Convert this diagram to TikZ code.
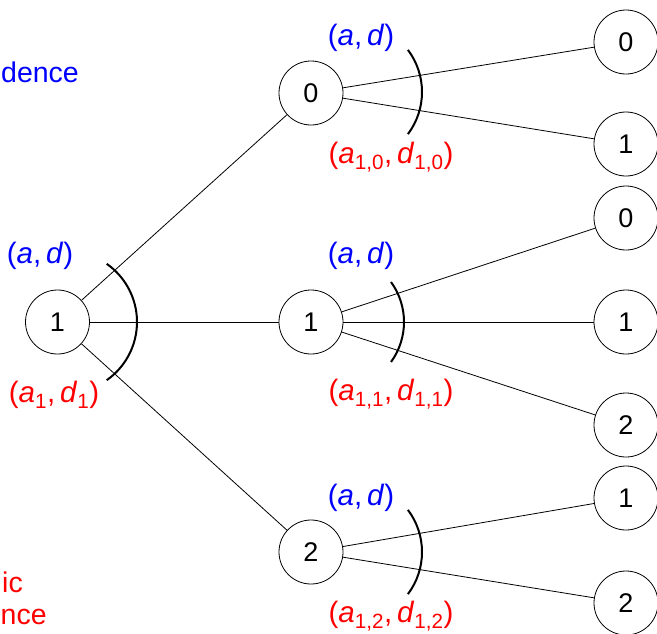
\documentclass[tikz,border=0pt]{standalone}
\usepackage{fontspec}
\setmainfont{Liberation Sans}
% pair label: (a_i, d_i) in sans italic
\newcommand{\pairlab}[2]{(\textit{a}\textsubscript{#1},\,\textit{d}\textsubscript{#2})}
\begin{document}
\begin{tikzpicture}[x=1pt,y=-1pt,
  state/.style={draw,circle,minimum size=64pt,inner sep=0pt,line width=0.8pt,
    font=\fontsize{27}{32}\selectfont},
  edge/.style={line width=0.8pt},
  cut/.style={line width=2pt},
  outerlab/.style={text=blue,inner sep=0pt,font=\fontsize{29.5}{34}\selectfont},
  innerlab/.style={text=red,inner sep=0pt,font=\fontsize{29.5}{34}\selectfont},
  caption/.style={inner sep=0pt,font=\fontsize{28.5}{34}\selectfont}]
\useasboundingbox (0,0) rectangle (657,633);
\clip (0,0) rectangle (657,633);

% root, middle level, leaves
\node[state] (r)   at (57.5,322) {1};
\node[state] (m0)  at (311,93)  {0};
\node[state] (m1)  at (311,322) {1};
\node[state] (m2)  at (311,552) {2};
\node[state] (l00) at (626,42)  {0};
\node[state] (l01) at (626,144) {1};
\node[state] (l10) at (626,218) {0};
\node[state] (l11) at (626,322) {1};
\node[state] (l12) at (626,425) {2};
\node[state] (l20) at (626,498) {1};
\node[state] (l21) at (626,603) {2};

% branches
\draw[edge] (r) -- (m0);
\draw[edge] (r) -- (m1);
\draw[edge] (r) -- (m2);
\draw[edge] (m0) -- (l00);
\draw[edge] (m0) -- (l01);
\draw[edge] (m1) -- (l10);
\draw[edge] (m1) -- (l11);
\draw[edge] (m1) -- (l12);
\draw[edge] (m2) -- (l20);
\draw[edge] (m2) -- (l21);

% arcs grouping the outgoing branches
\draw[cut] (66,322) ++(-55:71pt) arc[start angle=-55,end angle=55,radius=71pt];
\draw[cut] (352,92) ++(-37:70pt) arc[start angle=-37,end angle=37,radius=70pt];
\draw[cut] (336,322) ++(-36:68pt) arc[start angle=-36,end angle=36,radius=68pt];
\draw[cut] (352,552) ++(-37:70pt) arc[start angle=-37,end angle=37,radius=70pt];

% labels
\node[outerlab] (ta)  at (40,256)  {(\textit{a},\,\textit{d})};
\node[innerlab] (tb)  at (54,395)  {\pairlab{1}{1}};
\node[outerlab] (t0a) at (361,38)  {(\textit{a},\,\textit{d})};
\node[innerlab] (t0b) at (391,157) {\pairlab{1,0}{1,0}};
\node[outerlab] (t1a) at (361,256) {(\textit{a},\,\textit{d})};
\node[innerlab] (t1b) at (391,394) {\pairlab{1,1}{1,1}};
\node[outerlab] (t2a) at (361,498) {(\textit{a},\,\textit{d})};
\node[innerlab] (t2b) at (391,616) {\pairlab{1,2}{1,2}};

% side captions
\node[caption,text=blue,anchor=west] (capa) at (1,72) {dence};
\node[caption,text=red,anchor=west] (capb) at (2,582) {ic};
\node[caption,text=red,anchor=west] (capc) at (0.5,617) {nce};
\end{tikzpicture}
\end{document}
